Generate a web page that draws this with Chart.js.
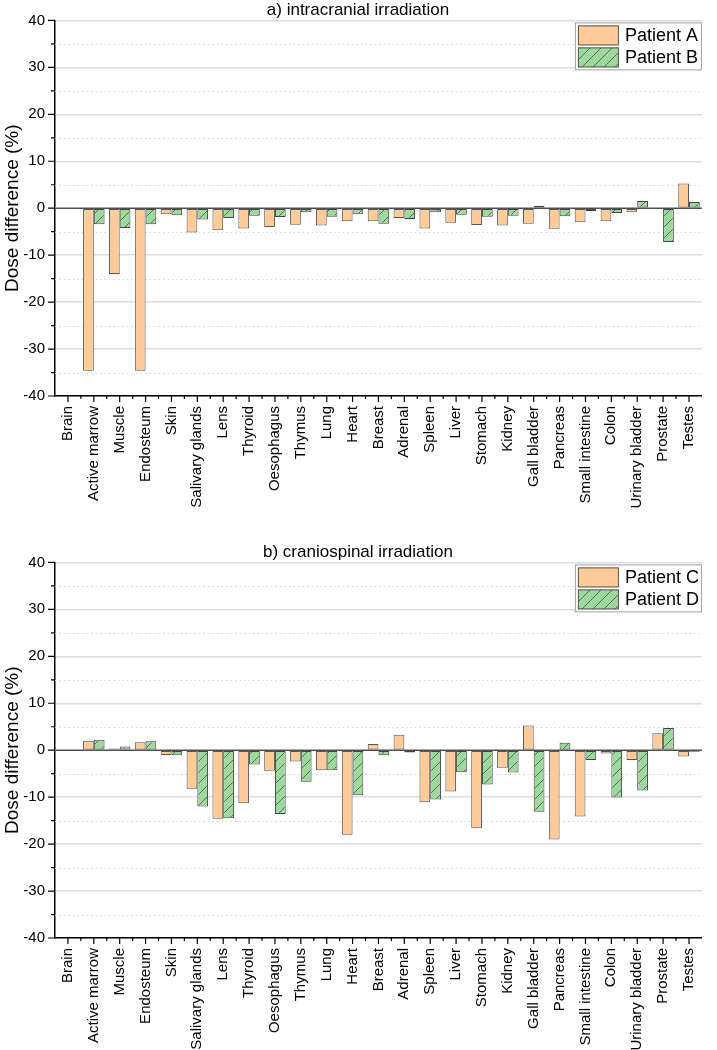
<!DOCTYPE html>
<html>
<head>
<meta charset="utf-8">
<script src="https://cdn.jsdelivr.net/npm/chart.js@4.4.0/dist/chart.umd.min.js"></script>
<style>
  body { margin: 0; background: #fff; }
  canvas { display: block; }
</style>
</head>
<body>
<canvas id="chartA" width="717" height="542"></canvas>
<canvas id="chartB" width="717" height="508"></canvas>
<script>
var organs = ['Brain', 'Active marrow', 'Muscle', 'Endosteum', 'Skin', 'Salivary glands', 'Lens', 'Thyroid',
    'Oesophagus', 'Thymus', 'Lung', 'Heart', 'Breast', 'Adrenal', 'Spleen', 'Liver', 'Stomach', 'Kidney',
    'Gall bladder', 'Pancreas', 'Small intestine', 'Colon', 'Urinary bladder', 'Prostate', 'Testes'];

// a) intracranial
var patientA = [null, -34.6, -14.0, -34.6, -1.3, -5.2, -4.7, -4.3, -4.0, -3.5, -3.7, -2.8, -2.8, -2.1, -4.3, -3.1, -3.6, -3.7, -3.3, -4.4, -3.0, -2.8, -0.85, 0.15, 5.25];
var patientB = [null, -3.4, -4.2, -3.4, -1.5, -2.4, -2.1, -1.6, -1.9, -0.85, -1.8, -1.3, -3.3, -2.3, -0.85, -1.4, -1.8, -1.6, 0.5, -1.7, -0.6, -1.0, 1.55, -7.2, 1.3];

// b) craniospinal
var patientC = [null, 2.0, 0.35, 1.7, -1.0, -8.2, -14.6, -11.3, -4.4, -2.4, -4.25, -18.0, 1.3, 3.3, -11.1, -8.8, -16.6, -3.75, 5.25, -19.0, -14.1, -0.7, -2.1, 3.6, -1.35];
var patientD = [null, 2.2, 0.8, 1.9, -1.05, -12.0, -14.5, -3.05, -13.6, -6.7, -4.25, -9.6, -1.05, -0.5, -10.5, -4.7, -7.3, -4.75, -13.1, 1.6, -2.1, -10.1, -8.6, 4.75, -0.35];

var yMin = -40, yMax = 40, yStep = 10;

var FONT = 'Liberation Sans, Arial, sans-serif';
var orange = '#ffcc99';
var green = '#9ed89e';

let makeHatch = () => {
    let c = document.createElement('canvas');
    c.width = 11; c.height = 11;
    let g = c.getContext('2d');
    g.fillStyle = green;
    g.fillRect(0, 0, 11, 11);
    g.strokeStyle = '#4a6a4a';
    g.lineWidth = 0.9;
    g.beginPath();
    g.moveTo(0, 11); g.lineTo(11, 0);
    g.moveTo(-1, 1); g.lineTo(1, -1);
    g.moveTo(10, 12); g.lineTo(12, 10);
    g.stroke();
    return g.createPattern(c, 'repeat');
};
var hatch = makeHatch();

// minor gridlines, zero line, axis ticks and the boxed legend
var extras = {
    id: 'extras',
    beforeDatasetsDraw: function (chart) {
        let ctx = chart.ctx, area = chart.chartArea, y = chart.scales.y;
        ctx.save();
        ctx.strokeStyle = '#d4d4d4';
        ctx.lineWidth = 1;
        ctx.setLineDash([1.5, 3]);
        for (let v = yMin + yStep / 2; v < yMax; v += yStep) {
            let py = Math.round(y.getPixelForValue(v)) + 0.5;
            ctx.beginPath(); ctx.moveTo(area.left, py); ctx.lineTo(area.right, py); ctx.stroke();
        }
        ctx.restore();
    },
    afterDatasetsDraw: function (chart) {
        let ctx = chart.ctx, area = chart.chartArea, y = chart.scales.y;
        let py = y.getPixelForValue(0);
        ctx.save();
        ctx.strokeStyle = '#505050';
        ctx.lineWidth = 1.5;
        ctx.beginPath(); ctx.moveTo(area.left, py); ctx.lineTo(area.right, py); ctx.stroke();
        ctx.restore();
    },
    afterDraw: function (chart, args, opts) {
        let ctx = chart.ctx, area = chart.chartArea, x = chart.scales.x, y = chart.scales.y;
        ctx.save();
        ctx.strokeStyle = '#000';
        ctx.lineWidth = 1.2;
        ctx.beginPath();
        // y ticks
        for (let v = yMin; v <= yMax; v += yStep / 2) {
            let py = y.getPixelForValue(v);
            let len = (v % yStep === 0) ? 7 : 4;
            ctx.moveTo(area.left - len, py); ctx.lineTo(area.left, py);
        }
        // x ticks
        let n = organs.length;
        let w = (area.right - area.left) / n;
        for (let i = 0; i < n; i++) {
            let px = x.getPixelForValue(i);
            ctx.moveTo(px, area.bottom); ctx.lineTo(px, area.bottom + 6);
            let bx = px + w / 2;
            if (i < n - 1) { ctx.moveTo(bx, area.bottom); ctx.lineTo(bx, area.bottom + 3); }
        }
        ctx.stroke();

        // legend box
        let lw = 126, lh = 47;
        let lx = area.right - lw - 1, ly = area.top + 2;
        ctx.fillStyle = '#fff';
        ctx.fillRect(lx, ly, lw, lh);
        ctx.strokeStyle = '#a0a0a0';
        ctx.lineWidth = 1;
        ctx.strokeRect(lx + 0.5, ly + 0.5, lw, lh);
        let fills = [orange, hatch];
        ctx.font = '18px ' + FONT;
        ctx.textBaseline = 'middle';
        for (let k = 0; k < 2; k++) {
            let sy = ly + 3 + k * 22;
            ctx.fillStyle = fills[k];
            ctx.fillRect(lx + 3, sy, 41, 20);
            ctx.strokeStyle = '#555';
            ctx.strokeRect(lx + 3.5, sy + 0.5, 40, 19);
            ctx.fillStyle = '#000';
            ctx.fillText(opts.names[k], lx + 50, sy + 11);
        }
        ctx.restore();
    }
};

let drawChart = (id, title, left, right, names) => {
    let canvas = document.getElementById(id);
    return new Chart(canvas, {
        type: 'bar',
        data: {
            labels: organs,
            datasets: [{
                label: names[0],
                data: left,
                backgroundColor: orange,
                borderColor: '#555',
                borderWidth: 1,
                borderSkipped: false
            }, {
                label: names[1],
                data: right,
                backgroundColor: hatch,
                borderColor: '#444',
                borderWidth: 1,
                borderSkipped: false
            }]
        },
        options: {
            responsive: false,
            animation: false,
            devicePixelRatio: 1,
            layout: { padding: { left: 0, right: 1, top: 0, bottom: 0 } },
            datasets: { bar: { categoryPercentage: 0.83, barPercentage: 1.0 } },
            plugins: {
                legend: { display: false },
                tooltip: { enabled: false },
                title: {
                    display: true,
                    text: title,
                    color: '#000',
                    font: { family: FONT, size: 17, weight: 'normal' },
                    padding: { top: 0, bottom: 0 }
                },
                extras: { names: names }
            },
            scales: {
                x: {
                    type: 'category',
                    offset: true,
                    grid: { display: false, drawTicks: false },
                    border: { display: true, color: '#000', width: 1.5 },
                    ticks: {
                        autoSkip: false,
                        maxRotation: 90,
                        minRotation: 90,
                        padding: 10,
                        color: '#000',
                        font: { family: FONT, size: 15 }
                    },
                    afterFit: function (s) { s.height = canvas.height - 396; }
                },
                y: {
                    min: yMin,
                    max: yMax,
                    ticks: {
                        stepSize: yStep,
                        padding: 10,
                        color: '#000',
                        font: { family: FONT, size: 15 }
                    },
                    grid: {
                        drawTicks: false,
                        lineWidth: 1.5,
                        color: function (c) { return (c.tick && c.tick.value === 0) ? 'rgba(0,0,0,0)' : '#dedede'; }
                    },
                    border: { display: true, color: '#000', width: 1.5 },
                    title: {
                        display: true,
                        text: 'Dose difference (%)',
                        color: '#000',
                        font: { family: FONT, size: 19 },
                        padding: { top: 1, bottom: 0 }
                    },
                    afterFit: function (s) { s.width = 55; }
                }
            }
        },
        plugins: [extras]
    });
};

drawChart('chartA', 'a) intracranial irradiation', patientA, patientB, ['Patient A', 'Patient B']);
drawChart('chartB', 'b) craniospinal irradiation', patientC, patientD, ['Patient C', 'Patient D']);
</script>
</body>
</html>
